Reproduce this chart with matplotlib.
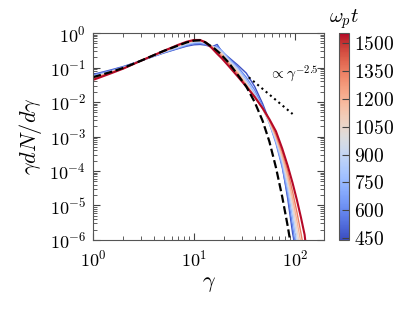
import numpy as np
import matplotlib
matplotlib.use('Agg')
import matplotlib.pyplot as plt
from matplotlib import cm, colors, ticker

plt.rcParams['font.family'] = 'serif'
plt.rcParams['font.serif'] = ['cmr10', 'DejaVu Serif']
plt.rcParams['mathtext.fontset'] = 'cm'
plt.rcParams['axes.formatter.use_mathtext'] = True
plt.rcParams['axes.unicode_minus'] = False

# gamma grid for the simulation spectra
gamma = [1, 1.5, 2, 3, 5, 7, 8.5, 10, 11.5, 13, 15, 17, 19, 22, 27, 33, 40, 48, 56, 65,
         75, 85, 95, 105, 115, 125, 130]

times = [450, 600, 750, 900, 1050, 1200, 1350, 1550]

# log10(gamma dN/dgamma) (nan = no data)
nan = np.nan
logf_450 = [-1.20, -1.07, -0.97, -0.80, -0.58, -0.45, -0.38, -0.34, -0.33, -0.35, -0.40,
            -0.33, -0.55, -0.70, -0.92, -1.16, -1.55, -2.05, -2.55, -3.15, -3.85, -4.80,
            -5.80, -6.5, nan, nan, nan]
logf_600 = [-1.22, -1.09, -0.98, -0.80, -0.57, -0.44, -0.36, -0.31, -0.30, -0.33, -0.40,
            -0.38, -0.52, -0.72, -0.97, -1.28, -1.65, -2.12, -2.62, -3.20, -3.90, -4.70,
            -5.60, -6.5, nan, nan, nan]
logf_750 = [-1.25, -1.11, -1.00, -0.80, -0.56, -0.42, -0.33, -0.28, -0.27, -0.30, -0.38,
            -0.42, -0.52, -0.75, -1.02, -1.35, -1.75, -2.18, -2.62, -3.15, -3.80, -4.55,
            -5.35, -6.2, -6.8, nan, nan]
logf_900 = [-1.27, -1.12, -1.01, -0.80, -0.55, -0.40, -0.31, -0.26, -0.25, -0.29, -0.38,
            -0.45, -0.56, -0.78, -1.05, -1.42, -1.80, -2.20, -2.60, -3.10, -3.70, -4.40,
            -5.15, -5.95, -6.7, nan, nan]
logf_1050 = [-1.29, -1.13, -1.02, -0.80, -0.54, -0.38, -0.29, -0.24, -0.23, -0.27, -0.38,
             -0.48, -0.60, -0.82, -1.10, -1.46, -1.82, -2.20, -2.58, -3.05, -3.62, -4.28,
             -4.98, -5.70, -6.4, nan, nan]
logf_1200 = [-1.31, -1.14, -1.02, -0.80, -0.53, -0.36, -0.27, -0.22, -0.21, -0.26, -0.39,
             -0.52, -0.64, -0.86, -1.15, -1.50, -1.85, -2.20, -2.55, -3.00, -3.55, -4.15,
             -4.80, -5.45, -6.1, -6.7, nan]
logf_1350 = [-1.33, -1.15, -1.03, -0.80, -0.52, -0.35, -0.26, -0.21, -0.20, -0.25, -0.40,
             -0.55, -0.68, -0.88, -1.18, -1.52, -1.86, -2.18, -2.52, -2.95, -3.45, -4.00,
             -4.60, -5.20, -5.80, -6.4, nan]
logf_1550 = [-1.36, -1.17, -1.03, -0.80, -0.52, -0.34, -0.25, -0.20, -0.20, -0.27, -0.43,
             -0.60, -0.74, -0.95, -1.25, -1.55, -1.85, -2.18, -2.50, -2.85, -3.35, -3.85,
             -4.35, -4.85, -5.35, -5.85, -6.3]
spectra = [logf_450, logf_600, logf_750, logf_900, logf_1050, logf_1200, logf_1350, logf_1550]

# reference (dashed) curve
gamma_ref = [1, 1.5, 2, 3, 5, 7, 8.5, 10, 11.5, 13, 16, 18, 22, 27, 33, 40, 48, 56, 65,
             75, 85, 92]
logf_ref = [-1.28, -1.13, -1.01, -0.80, -0.52, -0.36, -0.27, -0.22, -0.21, -0.27, -0.45,
            -0.58, -0.85, -1.20, -1.55, -2.00, -2.55, -3.15, -3.90, -4.75, -5.60, -6.20]

# power-law guide
gamma_pl = [35, 95]
f_pl = [0.052, 0.0045]

norm = colors.Normalize(vmin=440, vmax=1555)
cmap = plt.get_cmap('coolwarm')

fig = plt.figure(figsize=(4.15, 3.12), dpi=100)
ax = fig.add_axes([0.224, 0.231, 0.557, 0.663])

for t, lf in zip(times, spectra):
    lw = 1.5 if t == times[-1] else 1.0
    ax.plot(gamma, 10.0 ** np.array(lf), color=cmap(norm(t)), lw=lw)

ax.plot(gamma_ref, 10.0 ** np.array(logf_ref), 'k--', lw=1.6)
ax.plot(gamma_pl, f_pl, 'k:', lw=1.5)
ax.text(56, 10 ** -1.17, r'$\propto \gamma^{-2.5}$', fontsize=11, va='center')

ax.set_xscale('log')
ax.set_yscale('log')
ax.set_xlim(1, 195)
ax.set_ylim(1e-6, 1)
ax.yaxis.set_major_locator(ticker.LogLocator(base=10, numticks=12))
ax.yaxis.set_minor_locator(ticker.LogLocator(base=10, subs=np.arange(2, 10), numticks=12))
ax.yaxis.set_minor_formatter(ticker.NullFormatter())
ax.set_xlabel(r'$\gamma$', fontsize=16)
ax.set_ylabel(r'$\gamma dN/d\gamma$', fontsize=16)
ax.tick_params(which='both', direction='in', top=True, right=True, labelsize=13,
               color='#444444')
ax.tick_params(which='major', length=5)
ax.tick_params(which='minor', length=3)
ax.tick_params(axis='x', which='major', pad=6)
ax.tick_params(axis='y', which='major', pad=5)
for s in ax.spines.values():
    s.set_color('#555555')

cax = fig.add_axes([0.817, 0.231, 0.024, 0.663])
sm = cm.ScalarMappable(norm=norm, cmap=cmap)
cb = fig.colorbar(sm, cax=cax, ticks=[450, 600, 750, 900, 1050, 1200, 1350, 1500])
cb.ax.tick_params(direction='in', length=5, labelsize=14, color='#444444')
cb.outline.set_edgecolor('#555555')
cax.set_title(r'$\omega_p t$', fontsize=15, pad=8)

fig.savefig('out.png', dpi=100)
